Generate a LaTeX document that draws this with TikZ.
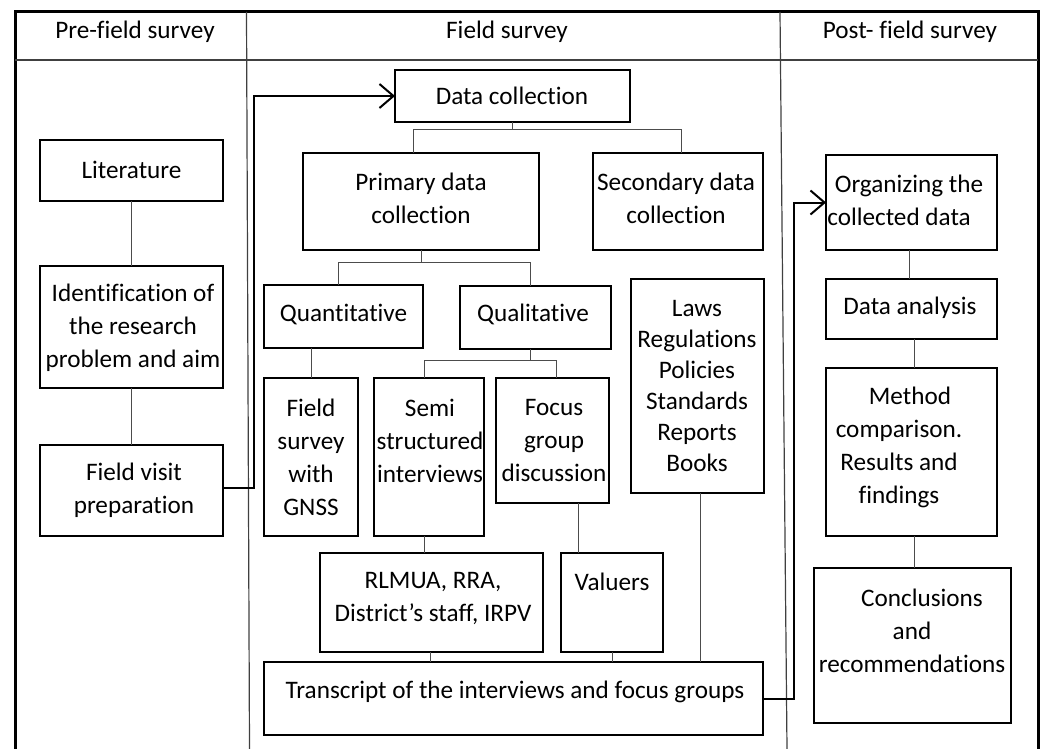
\documentclass[tikz,border=0pt]{standalone}
\usepackage{fontspec}
\setmainfont{Carlito}[Ligatures=CommonOff]
\usetikzlibrary{arrows.meta}
\begin{document}
\begin{tikzpicture}[x=1pt,y=-1pt,
  box/.style={draw=black, line width=2.3pt, inner sep=0pt, outer sep=0pt},
  txt/.style={align=center, inner sep=0pt, font=\fontsize{25.2}{33}\selectfont},
  conn/.style={draw=black!70, line width=1pt},
  flow/.style={draw=black, line width=2pt, -{Straight Barb[length=14pt,width=24pt,line width=2pt]}},
  frame/.style={draw=black, line width=3pt},
  divider/.style={draw=black!75, line width=1.2pt}
]
\useasboundingbox (0,0) rectangle (1044,749);
% frame and columns
\draw[frame] (15,749) -- (15,12) -- (1038,12) -- (1038,749);
\draw[divider] (15,60) -- (1038,60);
\draw[divider] (246.5,12) -- (249.5,749);
\draw[divider] (780,12) -- (787,749);
% headers
\node[txt] (h1) at (135,32) {Pre-field survey};
\node[txt] (h2) at (507,32) {Field survey};
\node[txt] (h3) at (910,32) {Post- field survey};
% pre-field boxes
\node[box, minimum width=183, minimum height=61] (lit) at (131.5,170.5) {};
\node[box, minimum width=183, minimum height=122] (ident) at (131.5,327) {};
\node[box, minimum width=183, minimum height=91] (fvp) at (131.5,490.5) {};
% field survey boxes
\node[box, minimum width=235, minimum height=52] (dc) at (512.5,96) {};
\node[box, minimum width=236, minimum height=97] (pdc) at (421,201.5) {};
\node[box, minimum width=170, minimum height=97] (sdc) at (678,201.5) {};
\node[box, minimum width=159, minimum height=63] (quant) at (343.5,316.5) {};
\node[box, minimum width=151, minimum height=63] (qual) at (535.5,317.5) {};
\node[box, minimum width=94, minimum height=158] (gnss) at (311,457) {};
\node[box, minimum width=110, minimum height=158] (semi) at (429,457) {};
\node[box, minimum width=113, minimum height=125] (focus) at (552.5,440.5) {};
\node[box, minimum width=133, minimum height=214] (laws) at (697.5,386) {};
\node[box, minimum width=223, minimum height=99] (rlmua) at (431.5,602.5) {};
\node[box, minimum width=102, minimum height=99] (valuers) at (612,602.5) {};
\node[box, minimum width=499, minimum height=73] (trans) at (513.5,698.5) {};
% post-field boxes
\node[box, minimum width=171, minimum height=95] (org) at (911.5,202.5) {};
\node[box, minimum width=171, minimum height=60] (da) at (911.5,309) {};
\node[box, minimum width=171, minimum height=168] (method) at (911.5,452) {};
\node[box, minimum width=197, minimum height=155] (concl) at (912.5,645.5) {};
% texts
\node[txt] (lit-t) at (131.5,170) {Literature};
\node[txt] (ident-t) at (133,328) {Identification of\\the research\\problem and aim};
\node[txt] (fvp-t) at (134,490) {Field visit\\preparation};
\node[txt] (dc-t) at (512,96) {Data collection};
\node[txt] (pdc-t) at (421,198) {Primary data\\collection};
\node[txt] (sdc-t) at (676,198) {Secondary data\\collection};
\node[txt] (quant-t) at (343.5,314) {Quantitative};
\node[txt] (qual-t) at (533,314) {Qualitative};
\node[txt] (gnss-t) at (311,457) {Field\\survey\\with\\GNSS};
\node[txt] (semi-t) at (430,441) {Semi\\structured\\interviews};
\node[txt] (focus-t) at (554,441) {Focus\\group\\discussion};
\node[txt, font=\fontsize{25.2}{31}\selectfont] (laws-t) at (697,386) {Laws\\Regulations\\Policies\\Standards\\Reports\\Books};
\node[txt] (rlmua-t) at (433,599) {RLMUA, RRA,\\District’s staff, IRPV};
\node[txt] (valuers-t) at (612,582) {Valuers};
\node[txt] (trans-t) at (515,692) {Transcript of the interviews and focus groups};
\node[txt] (org-t) at (899,200) {\hspace*{20pt}Organizing the\\collected data};
\node[txt] (da-t) at (910,308) {Data analysis};
\node[txt] (method-t) at (899,447) {\hspace*{22pt}Method\\comparison.\\Results and\\findings};
\node[txt] (concl-t) at (912,631) {\hspace*{20pt}Conclusions\\and\\recommendations};
% connectors
\draw[conn] (lit.south) -- (ident.north);
\draw[conn] (ident.south) -- (fvp.north);
\draw[conn] (dc.south) -- ++(0,8) coordinate (dcj);
\draw[conn] (dcj) -| ([xshift=-8pt]pdc.north);
\draw[conn] (dcj) -| ([xshift=3pt]sdc.north);
\draw[conn] (pdc.south) -- ++(0,12) coordinate (pdcj);
\draw[conn] (pdcj) -| ([xshift=-5.5pt]quant.north);
\draw[conn] (pdcj) -| ([xshift=-5.5pt]qual.north);
\draw[conn] (gnss.north |- quant.south) -- (gnss.north);
\draw[conn] ([xshift=-5.5pt]qual.south) -- ++(0,11) coordinate (qualj);
\draw[conn] (qualj) -| ([xshift=-5pt]semi.north);
\draw[conn] (qualj) -| ([xshift=3.5pt]focus.north);
\draw[conn] ([xshift=-5pt]semi.south) -- ([xshift=-5pt]semi.south |- rlmua.north);
\draw[conn] ([xshift=25.5pt]focus.south) -- ([xshift=25.5pt]focus.south |- valuers.north);
\draw[conn] ([xshift=-1.5pt]rlmua.south) -- ([xshift=-1.5pt]rlmua.south |- trans.north);
\draw[conn] (valuers.south) -- (valuers.south |- trans.north);
\draw[conn] ([xshift=3pt]laws.south) -- ([xshift=3pt]laws.south |- trans.north);
\draw[conn] ([xshift=-2.5pt]org.south) -- ([xshift=-2.5pt]org.south |- da.north);
\draw[conn] ([xshift=2.5pt]da.south) -- ([xshift=2.5pt]da.south |- method.north);
\draw[conn] ([xshift=2.5pt]method.south) -- ([xshift=2.5pt]method.south |- concl.north);
% flow arrows
\draw[flow] ([yshift=2.5pt]fvp.east) -- ++(31,0) |- (dc.west);
\draw[flow] (trans.east) -- ++(31,0) |- (org.west);
\end{tikzpicture}
\end{document}
